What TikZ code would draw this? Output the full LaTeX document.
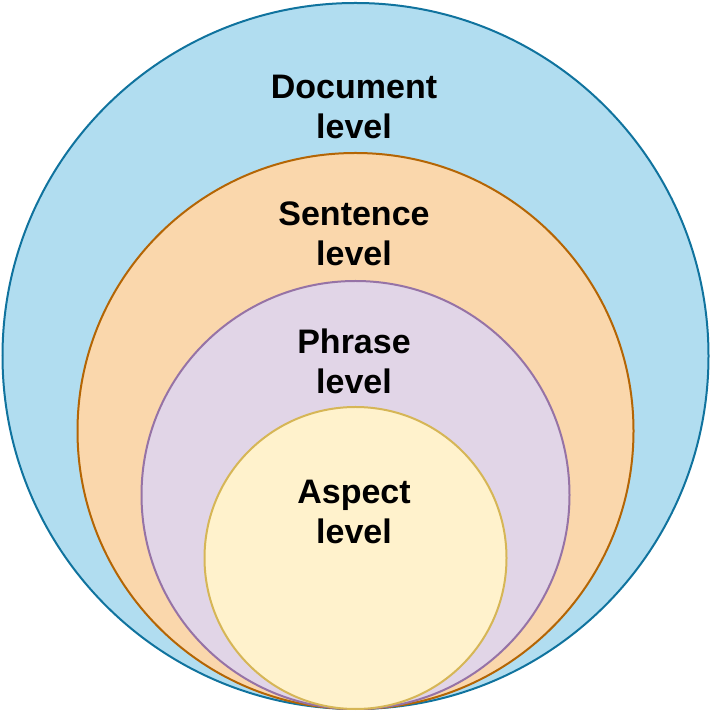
\documentclass[tikz,border=0pt]{standalone}
\usepackage{fontspec}
\setmainfont{Liberation Sans}
\definecolor{docfill}{HTML}{B1DDF0}\definecolor{docline}{HTML}{10739E}
\definecolor{senfill}{HTML}{FAD7AC}\definecolor{senline}{HTML}{B46504}
\definecolor{phrfill}{HTML}{E1D5E7}\definecolor{phrline}{HTML}{9673A6}
\definecolor{aspfill}{HTML}{FFF2CC}\definecolor{aspline}{HTML}{D6B656}
\begin{document}
\begin{tikzpicture}[x=1pt,y=1pt,
	ring/.style={line width=2pt},
	every node/.style={align=center,inner sep=0,
		font=\fontsize{34}{40}\selectfont\bfseries}]
\useasboundingbox (0,0) rectangle (711,712);
\draw[ring,fill=docfill,draw=docline] (355.5,356) circle (353);
\draw[ring,fill=senfill,draw=senline] (355.5,281) circle (278);
\draw[ring,fill=phrfill,draw=phrline] (355.5,217) circle (214);
\draw[ring,fill=aspfill,draw=aspline] (355.5,154) circle (151);
\node (doc) at (354,605) {Document\\level};
\node (sen) at (354,478) {Sentence\\level};
\node (phr) at (354,351) {Phrase\\level};
\node (asp) at (354,200) {Aspect\\level};
\end{tikzpicture}
\end{document}
